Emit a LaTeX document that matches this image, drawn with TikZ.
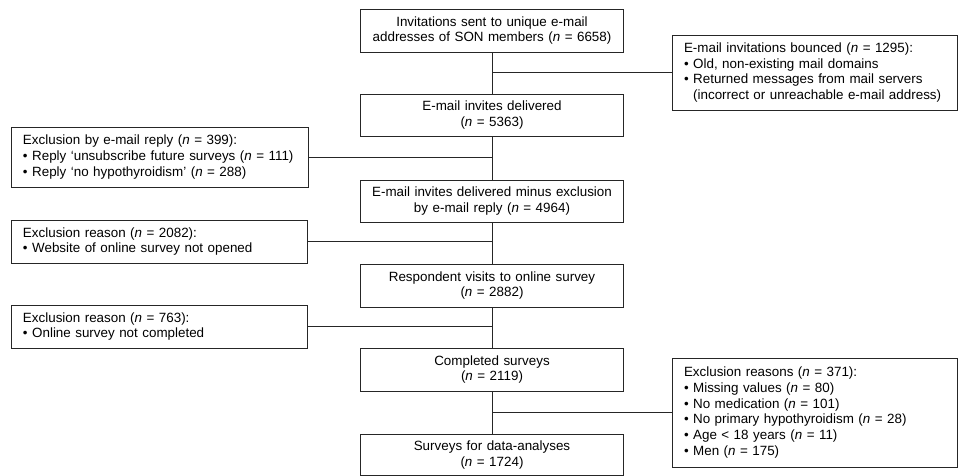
\documentclass[tikz,border=0pt]{standalone}
\usepackage{fontspec}
\setmainfont{Liberation Sans}
\begin{document}
\begin{tikzpicture}[x=1pt,y=-1pt,
  every node/.style={font=\fontsize{13.4}{15.7}\selectfont},
  mainbox/.style={draw=black!85, line width=0.8pt, minimum width=263pt, minimum height=43pt,
    text width=255pt, align=center, inner sep=0pt},
  sidebox/.style={draw=black!85, line width=0.8pt, align=left, inner xsep=12pt, inner ysep=0pt},
  conn/.style={draw=black!85, line width=0.8pt}]
\useasboundingbox (0,0) rectangle (958,476);

\node[mainbox] (b1) at (492,30.5) {Invitations sent to unique e-mail\\addresses of SON members (\textit{n} = 6658)};
\node[mainbox, minimum height=42pt] (b2) at (492,115) {E-mail invites delivered\\(\textit{n} = 5363)};
\node[mainbox, minimum height=42pt] (b3) at (492,201) {E-mail invites delivered minus exclusion\\by e-mail reply (\textit{n} = 4964)};
\node[mainbox] (b4) at (492,285.5) {Respondent visits to online survey\\(\textit{n} = 2882)};
\node[mainbox] (b5) at (492,369.5) {Completed surveys\\(\textit{n} = 2119)};
\node[mainbox, minimum height=41pt] (b6) at (492,455) {Surveys for data-analyses\\(\textit{n} = 1724)};

\node[sidebox, minimum width=285pt, minimum height=75pt, text width=261pt] (r1) at (814.5,72.5)
  {E-mail invitations bounced (\textit{n} = 1295):\\
   • Old, non-existing mail domains\\
   • Returned messages from mail servers\\
   \phantom{• }(incorrect or unreachable e-mail address)};
\node[sidebox, minimum width=297pt, minimum height=60pt, text width=273pt] (l1) at (159.5,157)
  {Exclusion by e-mail reply (\textit{n} = 399):\\
   • Reply ‘unsubscribe future surveys (\textit{n} = 111)\\
   • Reply ‘no hypothyroidism’ (\textit{n} = 288)};
\node[sidebox, minimum width=296pt, minimum height=43pt, text width=272pt] (l2) at (159,241.5)
  {Exclusion reason (\textit{n} = 2082):\\
   • Website of online survey not opened};
\node[sidebox, minimum width=296pt, minimum height=43pt, text width=272pt] (l3) at (159,326.5)
  {Exclusion reason (\textit{n} = 763):\\
   • Online survey not completed};
\node[sidebox, minimum width=285pt, minimum height=109pt, text width=261pt] (r2) at (814.5,412.5)
  {Exclusion reasons (\textit{n} = 371):\\
   • Missing values (\textit{n} = 80)\\
   • No medication (\textit{n} = 101)\\
   • No primary hypothyroidism (\textit{n} = 28)\\
   • Age < 18 years (\textit{n} = 11)\\
   • Men (\textit{n} = 175)};

\draw[conn] (b1) -- (b2);
\draw[conn] (b2) -- (b3);
\draw[conn] (b3) -- (b4);
\draw[conn] (b4) -- (b5);
\draw[conn] (b5) -- (b6);
\draw[conn] (r1.west) -- (r1.west -| b1.south);
\draw[conn] (l1.east) -- (l1.east -| b2.south);
\draw[conn] (l2.east) -- (l2.east -| b3.south);
\draw[conn] (l3.east) -- (l3.east -| b4.south);
\draw[conn] (r2.west) -- (r2.west -| b5.south);
\end{tikzpicture}
\end{document}
